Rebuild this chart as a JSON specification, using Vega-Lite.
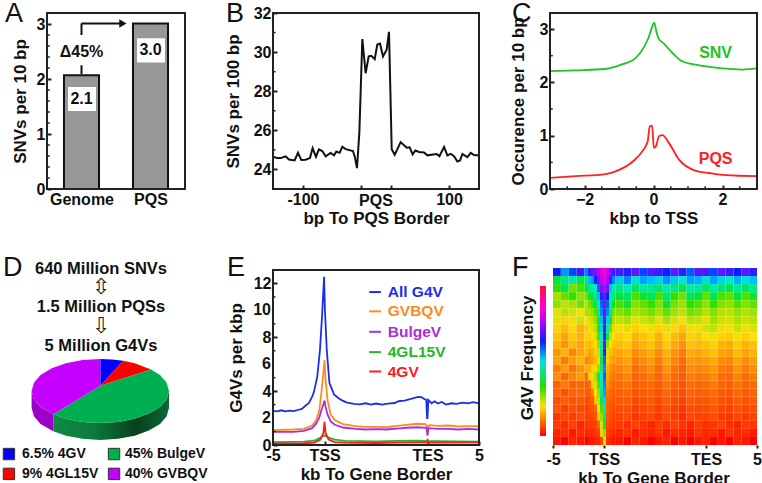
{"$schema":"https://vega.github.io/schema/vega-lite/v6.json","background":"white","padding":{"left":1,"top":0,"right":0,"bottom":0},"bounds":"flush","align":"each","columns":5,"spacing":{"row":81,"column":0},
"config":{"font":"Liberation Sans","view":{"stroke":null},"text":{"font":"Liberation Sans","fontWeight":"bold"},"axis":{"labelFont":"Liberation Sans","titleFont":"Liberation Sans","labelFontWeight":"bold","titleFontWeight":"bold","labelFontSize":16,"titleFontSize":17,"labelColor":"#111","titleColor":"#111","grid":false,"domain":false,"tickColor":"#222","tickWidth":2,"tickSize":-4,"labelAngle":0,"labelFlush":false,"labelOverlap":false},"axisX":{"labelPadding":6,"titlePadding":3},"axisY":{"labelPadding":6,"titlePadding":7}},
"concat":[
{"width":138,"height":176,
"layer":[
{"data":{"values":[{"k":"Genome","x":0.246,"x2":0.754,"y":2.07},{"k":"PQS","x":1.246,"x2":1.754,"y":3.01}]},"mark":{"type":"rect","fill":"#979797","stroke":"#111","strokeWidth":2},"encoding":{"x":{"field":"x","type":"quantitative","scale":{"domain":[0,2],"nice":false},"axis":{"values":[0.5,1.5],"labelExpr":"datum.value==0.5?'Genome':'PQS'","title":null}},"x2":{"field":"x2"},"y":{"field":"y","type":"quantitative","scale":{"domain":[0,3.2],"nice":false},"axis":{"values":[0,1,2,3],"title":"SNVs per 10 bp","format":"d"}},"y2":{"datum":0}}},
{"data":{"values":[{"y":0.2},{"y":0.4},{"y":0.6},{"y":0.8},{"y":1.2},{"y":1.4},{"y":1.6},{"y":1.8},{"y":2.2},{"y":2.4},{"y":2.6},{"y":2.8}]},"mark":{"type":"rule","color":"#222","strokeWidth":1.5},"encoding":{"y":{"field":"y","type":"quantitative"},"x":{"datum":0,"type":"quantitative"},"x2":{"datum":0.04}}},
{"data":{"values":[{"x":0.304,"x2":0.71,"y":1.855,"y2":1.418},{"x":1.304,"x2":1.71,"y":2.74,"y2":2.3}]},"mark":{"type":"rect","fill":"white"},"encoding":{"x":{"field":"x","type":"quantitative"},"x2":{"field":"x2"},"y":{"field":"y","type":"quantitative"},"y2":{"field":"y2"}}},
{"data":{"values":[{"t":"2.1","x":0.5,"y":1.63},{"t":"3.0","x":1.5,"y":2.52},{"t":"Δ45%","x":0.5,"y":2.5}]},"mark":{"type":"text","fontSize":16,"color":"#111"},"encoding":{"x":{"field":"x","type":"quantitative"},"y":{"field":"y","type":"quantitative"},"text":{"field":"t"}}},
{"data":{"values":[{"x":0.5,"x2":0.5,"y":2.09,"y2":2.25},{"x":0.5,"x2":0.5,"y":2.8,"y2":3.01},{"x":0.5,"x2":1.1,"y":3.01,"y2":3.01}]},"mark":{"type":"rule","color":"#111","strokeWidth":2},"encoding":{"x":{"field":"x","type":"quantitative"},"x2":{"field":"x2"},"y":{"field":"y","type":"quantitative"},"y2":{"field":"y2"}}},
{"data":{"values":[{"x":1.1,"y":3.01}]},"mark":{"type":"point","shape":"triangle-right","size":70,"filled":true,"color":"#111","opacity":1},"encoding":{"x":{"field":"x","type":"quantitative"},"y":{"field":"y","type":"quantitative"}}},
{"data":{"values":[{"t":"A"}]},"mark":{"type":"text","align":"left","baseline":"alphabetic","fontSize":27,"fontWeight":"normal","color":"#111","dx":-42,"dy":9},"encoding":{"x":{"datum":0,"type":"quantitative"},"y":{"datum":3.2,"type":"quantitative"},"text":{"field":"t"}}},
{"data":{"values":[{"f":1}]},"mark":{"type":"rect","fillOpacity":0,"stroke":"#222","strokeWidth":2},"encoding":{"x":{"datum":0,"type":"quantitative"},"x2":{"datum":2},"y":{"datum":0,"type":"quantitative"},"y2":{"datum":3.2}}}
]},
{"width":88,"height":20,"data":{"values":[]},"mark":"point"},
{"width":206,"height":176,
"layer":[
{"data":{"values":[{"x":-140.6,"y":24.65},{"x":-135.2,"y":24.58},{"x":-130.6,"y":24.58},{"x":-123.7,"y":24.67},{"x":-119.2,"y":24.51},{"x":-111.4,"y":24.46},{"x":-106.8,"y":24.85},{"x":-102.3,"y":24.48},{"x":-96.3,"y":24.5},{"x":-90.4,"y":24.58},{"x":-86.8,"y":25.09},{"x":-82.2,"y":24.65},{"x":-78.1,"y":25.03},{"x":-73.5,"y":24.94},{"x":-69,"y":24.67},{"x":-62.1,"y":24.84},{"x":-57.5,"y":24.72},{"x":-54.3,"y":24.92},{"x":-49.8,"y":24.85},{"x":-46.1,"y":25.16},{"x":-41.6,"y":25.04},{"x":-31.5,"y":24.94},{"x":-29.2,"y":24.68},{"x":-26,"y":24.07},{"x":-22.8,"y":25.88},{"x":-18.7,"y":30.67},{"x":-14.2,"y":28.92},{"x":-10,"y":29.78},{"x":-6.4,"y":29.81},{"x":-1.8,"y":29.64},{"x":1.8,"y":30.39},{"x":5.5,"y":30.44},{"x":9.6,"y":29.78},{"x":14.6,"y":30.12},{"x":17.8,"y":31.04},{"x":21.5,"y":25.03},{"x":25.6,"y":24.75},{"x":33.8,"y":25.4},{"x":42,"y":25.11},{"x":46.1,"y":25.13},{"x":50.2,"y":24.77},{"x":53.9,"y":24.97},{"x":58.9,"y":24.89},{"x":65.8,"y":24.87},{"x":70.3,"y":24.72},{"x":83.1,"y":24.79},{"x":86.8,"y":24.68},{"x":93.2,"y":25.15},{"x":97.7,"y":24.72},{"x":102.3,"y":24.8},{"x":106.8,"y":24.68},{"x":111.4,"y":24.41},{"x":115,"y":24.46},{"x":118.3,"y":24.79},{"x":125.1,"y":24.63},{"x":129.7,"y":24.85},{"x":134.2,"y":24.74},{"x":139.7,"y":24.72}]},"mark":{"type":"line","color":"#111","strokeWidth":2},"encoding":{"x":{"field":"x","type":"quantitative","scale":{"domain":[-141,141],"nice":false},"axis":{"values":[-100,-20,20,100],"labelExpr":"abs(datum.value)==20?'':datum.value","title":"bp To PQS Border"}},"y":{"field":"y","type":"quantitative","scale":{"domain":[23,32],"nice":false},"axis":{"values":[24,26,28,30,32],"title":"SNVs per 100 bp","titlePadding":11,"labelOverlap":false}}}},
{"data":{"values":[{"y":25},{"y":27},{"y":29},{"y":31}]},"mark":{"type":"rule","color":"#222","strokeWidth":1.5},"encoding":{"y":{"field":"y","type":"quantitative"},"x":{"datum":-141,"type":"quantitative"},"x2":{"datum":-137.5}}},
{"data":{"values":[{"t":"PQS","x":0,"y":23}]},"mark":{"type":"text","fontSize":16,"dy":12,"color":"#111"},"encoding":{"x":{"field":"x","type":"quantitative"},"y":{"field":"y","type":"quantitative"},"text":{"field":"t"}}},
{"data":{"values":[{"t":"B"}]},"mark":{"type":"text","align":"left","baseline":"alphabetic","fontSize":27,"fontWeight":"normal","color":"#111","dx":-47,"dy":9},"encoding":{"x":{"datum":-141,"type":"quantitative"},"y":{"datum":32,"type":"quantitative"},"text":{"field":"t"}}},
{"data":{"values":[{"f":1}]},"mark":{"type":"rect","fillOpacity":0,"stroke":"#222","strokeWidth":2},"encoding":{"x":{"datum":-141,"type":"quantitative"},"x2":{"datum":141},"y":{"datum":23,"type":"quantitative"},"y2":{"datum":32}}}
]},
{"width":71,"height":20,"data":{"values":[]},"mark":"point"},
{"width":207,"height":176,
"layer":[
{"data":{"values":[{"s":"SNV","x":-3,"y":2.21},{"s":"SNV","x":-2.25,"y":2.225},{"s":"SNV","x":-1.39,"y":2.25},{"s":"SNV","x":-0.9,"y":2.34},{"s":"SNV","x":-0.51,"y":2.46},{"s":"SNV","x":-0.27,"y":2.67},{"s":"SNV","x":-0.13,"y":2.86},{"s":"SNV","x":-0.05,"y":3.02},{"s":"SNV","x":0.02,"y":3.12},{"s":"SNV","x":0.07,"y":2.99},{"s":"SNV","x":0.14,"y":2.83},{"s":"SNV","x":0.31,"y":2.72},{"s":"SNV","x":0.55,"y":2.55},{"s":"SNV","x":0.79,"y":2.41},{"s":"SNV","x":1.13,"y":2.34},{"s":"SNV","x":1.52,"y":2.3},{"s":"SNV","x":2,"y":2.26},{"s":"SNV","x":2.58,"y":2.24},{"s":"SNV","x":3,"y":2.26},{"s":"PQS","x":-3,"y":0.21},{"s":"PQS","x":-2.25,"y":0.24},{"s":"PQS","x":-1.39,"y":0.28},{"s":"PQS","x":-1.1,"y":0.33},{"s":"PQS","x":-0.61,"y":0.51},{"s":"PQS","x":-0.32,"y":0.71},{"s":"PQS","x":-0.17,"y":0.89},{"s":"PQS","x":-0.11,"y":1.17},{"s":"PQS","x":-0.04,"y":1.19},{"s":"PQS","x":0.01,"y":0.77},{"s":"PQS","x":0.07,"y":0.8},{"s":"PQS","x":0.16,"y":0.99},{"s":"PQS","x":0.26,"y":1.01},{"s":"PQS","x":0.45,"y":0.86},{"s":"PQS","x":0.74,"y":0.55},{"s":"PQS","x":1.23,"y":0.34},{"s":"PQS","x":1.61,"y":0.3},{"s":"PQS","x":2.1,"y":0.26},{"s":"PQS","x":3,"y":0.24}]},"mark":{"type":"line","strokeWidth":1.8,"interpolate":"monotone"},"encoding":{"x":{"field":"x","type":"quantitative","scale":{"domain":[-3,3],"nice":false},"axis":{"values":[-2,0,2],"format":"d","title":"kbp to TSS"}},"y":{"field":"y","type":"quantitative","scale":{"domain":[0,3.3],"nice":false},"axis":{"values":[0,1,2,3],"format":"d","title":"Occurence per 10 bp","titlePadding":12}},"color":{"field":"s","type":"nominal","scale":{"domain":["SNV","PQS"],"range":["#22c322","#ff2020"]},"legend":null}}},
{"data":{"values":[{"y":0.5},{"y":1.5},{"y":2.5}]},"mark":{"type":"rule","color":"#222","strokeWidth":1.5},"encoding":{"y":{"field":"y","type":"quantitative"},"x":{"datum":-3,"type":"quantitative"},"x2":{"datum":-2.92}}},
{"data":{"values":[{"x":-2.5},{"x":-1.5},{"x":-1},{"x":-0.5},{"x":0.5},{"x":1},{"x":1.5},{"x":2.5}]},"mark":{"type":"rule","color":"#222","strokeWidth":1.5},"encoding":{"x":{"field":"x","type":"quantitative"},"y":{"datum":0,"type":"quantitative"},"y2":{"datum":0.05}}},
{"data":{"values":[{"t":"SNV","x":1.8,"y":2.55,"s":"SNV"},{"t":"PQS","x":1.8,"y":0.56,"s":"PQS"}]},"mark":{"type":"text","fontSize":16},"encoding":{"x":{"field":"x","type":"quantitative"},"y":{"field":"y","type":"quantitative"},"text":{"field":"t"},"color":{"field":"s","type":"nominal","legend":null}}},
{"data":{"values":[{"t":"C"}]},"mark":{"type":"text","align":"left","baseline":"alphabetic","fontSize":27,"fontWeight":"normal","color":"#111","dx":-38,"dy":9},"encoding":{"x":{"datum":-3,"type":"quantitative"},"y":{"datum":3.3,"type":"quantitative"},"text":{"field":"t"}}},
{"data":{"values":[{"f":1}]},"mark":{"type":"rect","fillOpacity":0,"stroke":"#222","strokeWidth":2},"encoding":{"x":{"datum":-3,"type":"quantitative"},"x2":{"datum":3},"y":{"datum":0,"type":"quantitative"},"y2":{"datum":3.3}}}
]},
{"width":138,"height":175,
"layer":[
{"data":{"values":[{"i":0,"x":1,"y":0},{"i":1,"x":0.966,"y":-0.259},{"i":2,"x":0.87,"y":-0.5},{"i":3,"x":0.707,"y":-0.707},{"i":4,"x":0.5,"y":-0.866},{"i":5,"x":0.259,"y":-0.966},{"i":6,"x":0,"y":-1},{"i":7,"x":-0.259,"y":-0.966},{"i":8,"x":-0.5,"y":-0.866},{"i":9,"x":-0.684,"y":-0.729},{"i":10,"x":-0.684,"y":-1.259},{"i":11,"x":-0.5,"y":-1.396},{"i":12,"x":-0.259,"y":-1.496},{"i":13,"x":0,"y":-1.53},{"i":14,"x":0.259,"y":-1.496},{"i":15,"x":0.5,"y":-1.396},{"i":16,"x":0.707,"y":-1.237},{"i":17,"x":0.87,"y":-1.03},{"i":18,"x":0.966,"y":-0.789},{"i":19,"x":1,"y":-0.53}]},"mark":{"type":"line","strokeWidth":0,"fill":{"x1":0,"y1":0,"x2":1,"y2":0,"gradient":"linear","stops":[{"offset":0,"color":"#0f8a45"},{"offset":0.35,"color":"#0c7a3c"},{"offset":0.72,"color":"#07401f"},{"offset":1,"color":"#0d6a34"}]}},"encoding":{"x":{"field":"x","type":"quantitative","scale":{"domain":[-0.776,1.233],"nice":false},"axis":null},"y":{"field":"y","type":"quantitative","scale":{"domain":[-1.6875,3.78],"nice":false},"axis":null},"order":{"field":"i"}}},
{"data":{"values":[{"i":0,"x":-0.684,"y":-0.729},{"i":1,"x":-0.87,"y":-0.5},{"i":2,"x":-0.966,"y":-0.259},{"i":3,"x":-1,"y":0},{"i":4,"x":-1,"y":-0.53},{"i":5,"x":-0.966,"y":-0.789},{"i":6,"x":-0.87,"y":-1.03},{"i":7,"x":-0.684,"y":-1.259}]},"mark":{"type":"line","strokeWidth":0,"fill":"#9a00c8"},"encoding":{"x":{"field":"x","type":"quantitative"},"y":{"field":"y","type":"quantitative"},"order":{"field":"i"}}},
{"data":{"values":[{"s":"b","i":0,"x":0,"y":0.166},{"s":"b","i":1,"x":0,"y":1},{"s":"b","i":2,"x":0.17,"y":0.985},{"s":"b","i":3,"x":0.335,"y":0.942},{"s":"r","i":0,"x":0,"y":0.166},{"s":"r","i":1,"x":0.335,"y":0.942},{"s":"r","i":2,"x":0.5,"y":0.866},{"s":"r","i":3,"x":0.738,"y":0.675},{"s":"g","i":0,"x":0,"y":0.166},{"s":"g","i":1,"x":0.738,"y":0.675},{"s":"g","i":2,"x":0.87,"y":0.5},{"s":"g","i":3,"x":0.966,"y":0.259},{"s":"g","i":4,"x":1,"y":0},{"s":"g","i":5,"x":0.966,"y":-0.259},{"s":"g","i":6,"x":0.87,"y":-0.5},{"s":"g","i":7,"x":0.707,"y":-0.707},{"s":"g","i":8,"x":0.5,"y":-0.866},{"s":"g","i":9,"x":0.259,"y":-0.966},{"s":"g","i":10,"x":0,"y":-1},{"s":"g","i":11,"x":-0.259,"y":-0.966},{"s":"g","i":12,"x":-0.5,"y":-0.866},{"s":"g","i":13,"x":-0.684,"y":-0.729},{"s":"p","i":0,"x":0,"y":0.166},{"s":"p","i":1,"x":-0.684,"y":-0.729},{"s":"p","i":2,"x":-0.87,"y":-0.5},{"s":"p","i":3,"x":-0.966,"y":-0.259},{"s":"p","i":4,"x":-1,"y":0},{"s":"p","i":5,"x":-0.966,"y":0.259},{"s":"p","i":6,"x":-0.87,"y":0.5},{"s":"p","i":7,"x":-0.707,"y":0.707},{"s":"p","i":8,"x":-0.5,"y":0.866},{"s":"p","i":9,"x":-0.259,"y":0.966},{"s":"p","i":10,"x":0,"y":1}]},"mark":{"type":"line","strokeWidth":0},"encoding":{"x":{"field":"x","type":"quantitative"},"y":{"field":"y","type":"quantitative"},"order":{"field":"i"},"fill":{"field":"s","type":"nominal","scale":{"domain":["b","r","g","p"],"range":["#0000ff","#ff0000","#00b050","#c400ff"]},"legend":null}}},
{"data":{"values":[{"s":"b","x":-1.33,"y":-1.97},{"s":"r","x":-1.33,"y":-2.59},{"s":"g","x":0.2,"y":-1.97},{"s":"p","x":0.2,"y":-2.59}]},"mark":{"type":"square","size":130,"stroke":"#333","strokeWidth":1,"opacity":1},"encoding":{"x":{"field":"x","type":"quantitative"},"y":{"field":"y","type":"quantitative"},"fill":{"field":"s","type":"nominal","legend":null}}},
{"data":{"values":[{"t":"6.5%  4GV","x":-1.14,"y":-1.97},{"t":"9%  4GL15V","x":-1.14,"y":-2.59},{"t":"45%  BulgeV","x":0.36,"y":-1.97},{"t":"40%  GVBQV","x":0.36,"y":-2.59}]},"mark":{"type":"text","fontSize":14,"align":"left","color":"#111"},"encoding":{"x":{"field":"x","type":"quantitative"},"y":{"field":"y","type":"quantitative"},"text":{"field":"t"}}},
{"data":{"values":[{"t":"640 Million SNVs","x":0.01,"y":3.81},{"t":"1.5 Million PQSs","x":0.01,"y":2.62},{"t":"5 Million G4Vs","x":0.01,"y":1.41}]},"mark":{"type":"text","fontSize":16.5,"color":"#111"},"encoding":{"x":{"field":"x","type":"quantitative"},"y":{"field":"y","type":"quantitative"},"text":{"field":"t"}}},
{"data":{"values":[{"t":"⇳","x":0.01,"y":3.25},{"t":"⇩","x":0.01,"y":2.03}]},"mark":{"type":"text","fontSize":22,"font":"DejaVu Sans","fontWeight":"normal","color":"#222"},"encoding":{"x":{"field":"x","type":"quantitative"},"y":{"field":"y","type":"quantitative"},"text":{"field":"t"}}},
{"data":{"values":[{"t":"D"}]},"mark":{"type":"text","align":"left","baseline":"alphabetic","fontSize":27,"fontWeight":"normal","color":"#111","dx":-44,"dy":6},"encoding":{"x":{"datum":-0.776,"type":"quantitative"},"y":{"datum":3.78,"type":"quantitative"},"text":{"field":"t"}}}
]},
{"width":88,"height":20,"data":{"values":[]},"mark":"point"},
{"width":206,"height":175,
"layer":[
{"data":{"values":[{"s":"All G4V","x":-5,"y":2.53},{"s":"All G4V","x":-4.8,"y":2.5},{"s":"All G4V","x":-4.6,"y":2.58},{"s":"All G4V","x":-4.4,"y":2.5},{"s":"All G4V","x":-4.2,"y":2.56},{"s":"All G4V","x":-4,"y":2.52},{"s":"All G4V","x":-3.8,"y":2.6},{"s":"All G4V","x":-3.6,"y":2.68},{"s":"All G4V","x":-3.4,"y":2.95},{"s":"All G4V","x":-3.26,"y":3.1},{"s":"All G4V","x":-3.1,"y":3.6},{"s":"All G4V","x":-3.01,"y":3.95},{"s":"All G4V","x":-2.85,"y":5.09},{"s":"All G4V","x":-2.72,"y":7.07},{"s":"All G4V","x":-2.62,"y":9.55},{"s":"All G4V","x":-2.52,"y":12.5},{"s":"All G4V","x":-2.48,"y":10.05},{"s":"All G4V","x":-2.39,"y":7.07},{"s":"All G4V","x":-2.26,"y":4.6},{"s":"All G4V","x":-2.1,"y":4},{"s":"All G4V","x":-2.04,"y":3.75},{"s":"All G4V","x":-1.8,"y":3.45},{"s":"All G4V","x":-1.63,"y":3.3},{"s":"All G4V","x":-1.4,"y":3.15},{"s":"All G4V","x":-1.06,"y":3.05},{"s":"All G4V","x":-0.8,"y":3.02},{"s":"All G4V","x":-0.5,"y":3.1},{"s":"All G4V","x":-0.24,"y":3},{"s":"All G4V","x":0,"y":3.08},{"s":"All G4V","x":0.3,"y":3},{"s":"All G4V","x":0.57,"y":3.08},{"s":"All G4V","x":0.9,"y":3.12},{"s":"All G4V","x":1.1,"y":3.25},{"s":"All G4V","x":1.38,"y":3.3},{"s":"All G4V","x":1.7,"y":3.42},{"s":"All G4V","x":2.04,"y":3.58},{"s":"All G4V","x":2.2,"y":3.55},{"s":"All G4V","x":2.35,"y":3.42},{"s":"All G4V","x":2.44,"y":3.35},{"s":"All G4V","x":2.48,"y":2},{"s":"All G4V","x":2.5,"y":2},{"s":"All G4V","x":2.54,"y":3.35},{"s":"All G4V","x":2.7,"y":3.1},{"s":"All G4V","x":2.85,"y":3.25},{"s":"All G4V","x":3,"y":3.08},{"s":"All G4V","x":3.18,"y":3.2},{"s":"All G4V","x":3.4,"y":3},{"s":"All G4V","x":3.66,"y":3.1},{"s":"All G4V","x":3.9,"y":3.05},{"s":"All G4V","x":4.2,"y":3.15},{"s":"All G4V","x":4.48,"y":3.1},{"s":"All G4V","x":4.7,"y":3.18},{"s":"All G4V","x":5,"y":3.1},
{"s":"GVBQV","x":-5,"y":1.1},{"s":"GVBQV","x":-4,"y":1.15},{"s":"GVBQV","x":-3.5,"y":1.2},{"s":"GVBQV","x":-3.1,"y":1.45},{"s":"GVBQV","x":-2.9,"y":1.85},{"s":"GVBQV","x":-2.75,"y":2.6},{"s":"GVBQV","x":-2.65,"y":3.9},{"s":"GVBQV","x":-2.55,"y":5.4},{"s":"GVBQV","x":-2.5,"y":6.3},{"s":"GVBQV","x":-2.45,"y":4.9},{"s":"GVBQV","x":-2.35,"y":3.3},{"s":"GVBQV","x":-2.2,"y":2.25},{"s":"GVBQV","x":-2,"y":1.85},{"s":"GVBQV","x":-1.6,"y":1.55},{"s":"GVBQV","x":-1,"y":1.4},{"s":"GVBQV","x":-0.5,"y":1.35},{"s":"GVBQV","x":0,"y":1.35},{"s":"GVBQV","x":0.5,"y":1.32},{"s":"GVBQV","x":1,"y":1.42},{"s":"GVBQV","x":1.5,"y":1.5},{"s":"GVBQV","x":2,"y":1.58},{"s":"GVBQV","x":2.4,"y":1.55},{"s":"GVBQV","x":2.5,"y":1.35},{"s":"GVBQV","x":2.6,"y":1.48},{"s":"GVBQV","x":3,"y":1.42},{"s":"GVBQV","x":3.5,"y":1.45},{"s":"GVBQV","x":4,"y":1.38},{"s":"GVBQV","x":4.5,"y":1.4},{"s":"GVBQV","x":5,"y":1.4},
{"s":"BulgeV","x":-5,"y":0.98},{"s":"BulgeV","x":-4,"y":0.98},{"s":"BulgeV","x":-3.5,"y":1.05},{"s":"BulgeV","x":-3.1,"y":1.25},{"s":"BulgeV","x":-2.9,"y":1.6},{"s":"BulgeV","x":-2.75,"y":2.05},{"s":"BulgeV","x":-2.65,"y":2.6},{"s":"BulgeV","x":-2.55,"y":3.05},{"s":"BulgeV","x":-2.5,"y":3.3},{"s":"BulgeV","x":-2.45,"y":2.85},{"s":"BulgeV","x":-2.35,"y":2.25},{"s":"BulgeV","x":-2.2,"y":1.75},{"s":"BulgeV","x":-2,"y":1.5},{"s":"BulgeV","x":-1.6,"y":1.3},{"s":"BulgeV","x":-1,"y":1.2},{"s":"BulgeV","x":-0.5,"y":1.15},{"s":"BulgeV","x":0,"y":1.18},{"s":"BulgeV","x":0.5,"y":1.15},{"s":"BulgeV","x":1,"y":1.22},{"s":"BulgeV","x":1.5,"y":1.28},{"s":"BulgeV","x":2,"y":1.32},{"s":"BulgeV","x":2.45,"y":1.28},{"s":"BulgeV","x":2.5,"y":0.7},{"s":"BulgeV","x":2.55,"y":1.25},{"s":"BulgeV","x":3,"y":1.2},{"s":"BulgeV","x":3.5,"y":1.2},{"s":"BulgeV","x":4,"y":1.15},{"s":"BulgeV","x":4.5,"y":1.2},{"s":"BulgeV","x":5,"y":1.15},
{"s":"4GL15V","x":-5,"y":0.22},{"s":"4GL15V","x":-3.5,"y":0.25},{"s":"4GL15V","x":-3,"y":0.32},{"s":"4GL15V","x":-2.7,"y":0.55},{"s":"4GL15V","x":-2.5,"y":0.72},{"s":"4GL15V","x":-2.3,"y":0.55},{"s":"4GL15V","x":-2,"y":0.4},{"s":"4GL15V","x":-1.5,"y":0.3},{"s":"4GL15V","x":0,"y":0.27},{"s":"4GL15V","x":1,"y":0.3},{"s":"4GL15V","x":2,"y":0.33},{"s":"4GL15V","x":2.5,"y":0.28},{"s":"4GL15V","x":3,"y":0.28},{"s":"4GL15V","x":5,"y":0.25},
{"s":"4GV","x":-5,"y":0.12},{"s":"4GV","x":-3.5,"y":0.13},{"s":"4GV","x":-3,"y":0.18},{"s":"4GV","x":-2.7,"y":0.4},{"s":"4GV","x":-2.55,"y":0.9},{"s":"4GV","x":-2.5,"y":1.72},{"s":"4GV","x":-2.45,"y":0.9},{"s":"4GV","x":-2.3,"y":0.4},{"s":"4GV","x":-2,"y":0.22},{"s":"4GV","x":-1.5,"y":0.17},{"s":"4GV","x":0,"y":0.15},{"s":"4GV","x":1,"y":0.17},{"s":"4GV","x":2,"y":0.2},{"s":"4GV","x":2.48,"y":0.2},{"s":"4GV","x":2.5,"y":0.45},{"s":"4GV","x":2.52,"y":0.2},{"s":"4GV","x":3,"y":0.17},{"s":"4GV","x":5,"y":0.2}]},"mark":{"type":"line","strokeWidth":1.8},"encoding":{"x":{"field":"x","type":"quantitative","scale":{"domain":[-5,5],"nice":false},"axis":{"values":[-5,-2.5,2.5,5],"labelExpr":"datum.value==-5?'-5':datum.value==5?'5':datum.value<0?'TSS':'TES'","title":"kb To Gene Border"}},"y":{"field":"y","type":"quantitative","scale":{"domain":[0,13],"nice":false},"axis":{"values":[0,2,4,6,8,10,12],"title":"G4Vs per kbp","titlePadding":8,"labelOverlap":false,"labelBound":false,"labelSeparation":0}},"color":{"field":"s","type":"nominal","scale":{"domain":["All G4V","GVBQV","BulgeV","4GL15V","4GV"],"range":["#1a2fe8","#ff8a1e","#a82fe0","#22b822","#ff1a1a"]},"legend":null}}},
{"data":{"values":[{"y":1},{"y":3},{"y":5},{"y":7},{"y":9},{"y":11}]},"mark":{"type":"rule","color":"#222","strokeWidth":1.5},"encoding":{"y":{"field":"y","type":"quantitative"},"x":{"datum":-5,"type":"quantitative"},"x2":{"datum":-4.88}}},
{"data":{"values":[{"y":2},{"y":6},{"y":10}]},"mark":{"type":"text","fontSize":16,"align":"right","baseline":"middle","dx":-2,"color":"#111"},"encoding":{"y":{"field":"y","type":"quantitative"},"x":{"datum":-5,"type":"quantitative"},"text":{"field":"y","type":"quantitative"}}},
{"data":{"values":[{"s":"All G4V","x":-0.33,"x2":0.24,"y":11.36},{"s":"GVBQV","x":-0.33,"x2":0.24,"y":9.93},{"s":"BulgeV","x":-0.33,"x2":0.24,"y":8.41},{"s":"4GL15V","x":-0.33,"x2":0.24,"y":6.9},{"s":"4GV","x":-0.33,"x2":0.24,"y":5.46}]},"mark":{"type":"rule","strokeWidth":2},"encoding":{"x":{"field":"x","type":"quantitative"},"x2":{"field":"x2"},"y":{"field":"y","type":"quantitative"},"color":{"field":"s","type":"nominal","legend":null}}},
{"data":{"values":[{"s":"All G4V","x":0.57,"y":11.36},{"s":"GVBQV","x":0.57,"y":9.93},{"s":"BulgeV","x":0.57,"y":8.41},{"s":"4GL15V","x":0.57,"y":6.9},{"s":"4GV","x":0.57,"y":5.46}]},"mark":{"type":"text","fontSize":15.5,"align":"left"},"encoding":{"x":{"field":"x","type":"quantitative"},"y":{"field":"y","type":"quantitative"},"text":{"field":"s"},"color":{"field":"s","type":"nominal","legend":null}}},
{"data":{"values":[{"t":"E"}]},"mark":{"type":"text","align":"left","baseline":"alphabetic","fontSize":27,"fontWeight":"normal","color":"#111","dx":-46,"dy":6},"encoding":{"x":{"datum":-5,"type":"quantitative"},"y":{"datum":13,"type":"quantitative"},"text":{"field":"t"}}},
{"data":{"values":[{"f":1}]},"mark":{"type":"rect","fillOpacity":0,"stroke":"#222","strokeWidth":2},"encoding":{"x":{"datum":-5,"type":"quantitative"},"x2":{"datum":5},"y":{"datum":0,"type":"quantitative"},"y2":{"datum":13}}}
]},
{"width":71,"height":20,"data":{"values":[]},"mark":"point"},
{"width":207,"height":175,
"layer":[
{"data":{"values":[{"c":0,"r":0,"v":70},{"c":1,"r":0,"v":65},{"c":2,"r":0,"v":69},{"c":3,"r":0,"v":72},{"c":4,"r":0,"v":66},{"c":5,"r":0,"v":68},{"c":6,"r":0,"v":75},{"c":7,"r":0,"v":68},{"c":8,"r":0,"v":73},{"c":9,"r":0,"v":71},{"c":10,"r":0,"v":76},{"c":11,"r":0,"v":69},{"c":12,"r":0,"v":74},{"c":13,"r":0,"v":72},{"c":14,"r":0,"v":70},{"c":15,"r":0,"v":75},{"c":16,"r":0,"v":71},{"c":17,"r":0,"v":68},{"c":18,"r":0,"v":74},{"c":19,"r":0,"v":73},{"c":20,"r":0,"v":69},{"c":21,"r":0,"v":76},{"c":22,"r":0,"v":72},{"c":23,"r":0,"v":70},{"c":24,"r":0,"v":75},{"c":25,"r":0,"v":71},
{"c":0,"r":1,"v":47},{"c":1,"r":1,"v":51},{"c":2,"r":1,"v":54},{"c":3,"r":1,"v":48},{"c":4,"r":1,"v":50},{"c":5,"r":1,"v":53},{"c":6,"r":1,"v":60},{"c":7,"r":1,"v":63},{"c":8,"r":1,"v":61},{"c":9,"r":1,"v":66},{"c":10,"r":1,"v":59},{"c":11,"r":1,"v":64},{"c":12,"r":1,"v":62},{"c":13,"r":1,"v":60},{"c":14,"r":1,"v":65},{"c":15,"r":1,"v":61},{"c":16,"r":1,"v":58},{"c":17,"r":1,"v":64},{"c":18,"r":1,"v":63},{"c":19,"r":1,"v":59},{"c":20,"r":1,"v":64},{"c":21,"r":1,"v":60},{"c":22,"r":1,"v":58},{"c":23,"r":1,"v":63},{"c":24,"r":1,"v":59},{"c":25,"r":1,"v":62},
{"c":0,"r":2,"v":45},{"c":1,"r":2,"v":48},{"c":2,"r":2,"v":42},{"c":3,"r":2,"v":44},{"c":4,"r":2,"v":47},{"c":5,"r":2,"v":40},{"c":6,"r":2,"v":52},{"c":7,"r":2,"v":53},{"c":8,"r":2,"v":51},{"c":9,"r":2,"v":56},{"c":10,"r":2,"v":49},{"c":11,"r":2,"v":54},{"c":12,"r":2,"v":52},{"c":13,"r":2,"v":50},{"c":14,"r":2,"v":55},{"c":15,"r":2,"v":51},{"c":16,"r":2,"v":48},{"c":17,"r":2,"v":54},{"c":18,"r":2,"v":53},{"c":19,"r":2,"v":49},{"c":20,"r":2,"v":54},{"c":21,"r":2,"v":50},{"c":22,"r":2,"v":48},{"c":23,"r":2,"v":53},{"c":24,"r":2,"v":49},{"c":25,"r":2,"v":52},
{"c":0,"r":3,"v":38},{"c":1,"r":3,"v":43},{"c":2,"r":3,"v":45},{"c":3,"r":3,"v":40},{"c":4,"r":3,"v":42},{"c":5,"r":3,"v":44},{"c":6,"r":3,"v":46},{"c":7,"r":3,"v":43},{"c":8,"r":3,"v":47},{"c":9,"r":3,"v":49},{"c":10,"r":3,"v":44},{"c":11,"r":3,"v":46},{"c":12,"r":3,"v":48},{"c":13,"r":3,"v":44},{"c":14,"r":3,"v":49},{"c":15,"r":3,"v":45},{"c":16,"r":3,"v":42},{"c":17,"r":3,"v":48},{"c":18,"r":3,"v":47},{"c":19,"r":3,"v":43},{"c":20,"r":3,"v":48},{"c":21,"r":3,"v":44},{"c":22,"r":3,"v":43},{"c":23,"r":3,"v":47},{"c":24,"r":3,"v":44},{"c":25,"r":3,"v":46},
{"c":0,"r":4,"v":40},{"c":1,"r":4,"v":36},{"c":2,"r":4,"v":38},{"c":3,"r":4,"v":42},{"c":4,"r":4,"v":37},{"c":5,"r":4,"v":38},{"c":6,"r":4,"v":44},{"c":7,"r":4,"v":40},{"c":8,"r":4,"v":44},{"c":9,"r":4,"v":46},{"c":10,"r":4,"v":41},{"c":11,"r":4,"v":43},{"c":12,"r":4,"v":45},{"c":13,"r":4,"v":41},{"c":14,"r":4,"v":46},{"c":15,"r":4,"v":42},{"c":16,"r":4,"v":39},{"c":17,"r":4,"v":45},{"c":18,"r":4,"v":44},{"c":19,"r":4,"v":40},{"c":20,"r":4,"v":45},{"c":21,"r":4,"v":41},{"c":22,"r":4,"v":40},{"c":23,"r":4,"v":44},{"c":24,"r":4,"v":41},{"c":25,"r":4,"v":43},
{"c":0,"r":5,"v":33},{"c":1,"r":5,"v":37},{"c":2,"r":5,"v":35},{"c":3,"r":5,"v":31},{"c":4,"r":5,"v":38},{"c":5,"r":5,"v":35},{"c":6,"r":5,"v":41},{"c":7,"r":5,"v":37},{"c":8,"r":5,"v":41},{"c":9,"r":5,"v":43},{"c":10,"r":5,"v":38},{"c":11,"r":5,"v":40},{"c":12,"r":5,"v":42},{"c":13,"r":5,"v":38},{"c":14,"r":5,"v":43},{"c":15,"r":5,"v":39},{"c":16,"r":5,"v":36},{"c":17,"r":5,"v":42},{"c":18,"r":5,"v":41},{"c":19,"r":5,"v":37},{"c":20,"r":5,"v":41},{"c":21,"r":5,"v":37},{"c":22,"r":5,"v":36},{"c":23,"r":5,"v":40},{"c":24,"r":5,"v":37},{"c":25,"r":5,"v":39},
{"c":0,"r":6,"v":33},{"c":1,"r":6,"v":28},{"c":2,"r":6,"v":32},{"c":3,"r":6,"v":35},{"c":4,"r":6,"v":30},{"c":5,"r":6,"v":31},{"c":6,"r":6,"v":36},{"c":7,"r":6,"v":32},{"c":8,"r":6,"v":36},{"c":9,"r":6,"v":38},{"c":10,"r":6,"v":33},{"c":11,"r":6,"v":35},{"c":12,"r":6,"v":37},{"c":13,"r":6,"v":33},{"c":14,"r":6,"v":38},{"c":15,"r":6,"v":34},{"c":16,"r":6,"v":31},{"c":17,"r":6,"v":37},{"c":18,"r":6,"v":36},{"c":19,"r":6,"v":33},{"c":20,"r":6,"v":39},{"c":21,"r":6,"v":35},{"c":22,"r":6,"v":34},{"c":23,"r":6,"v":38},{"c":24,"r":6,"v":35},{"c":25,"r":6,"v":37},
{"c":0,"r":7,"v":28},{"c":1,"r":7,"v":25},{"c":2,"r":7,"v":29},{"c":3,"r":7,"v":24},{"c":4,"r":7,"v":27},{"c":5,"r":7,"v":30},{"c":6,"r":7,"v":31},{"c":7,"r":7,"v":27},{"c":8,"r":7,"v":31},{"c":9,"r":7,"v":33},{"c":10,"r":7,"v":28},{"c":11,"r":7,"v":30},{"c":12,"r":7,"v":32},{"c":13,"r":7,"v":28},{"c":14,"r":7,"v":33},{"c":15,"r":7,"v":29},{"c":16,"r":7,"v":26},{"c":17,"r":7,"v":32},{"c":18,"r":7,"v":31},{"c":19,"r":7,"v":34},{"c":20,"r":7,"v":36},{"c":21,"r":7,"v":32},{"c":22,"r":7,"v":31},{"c":23,"r":7,"v":35},{"c":24,"r":7,"v":32},{"c":25,"r":7,"v":34},
{"c":0,"r":8,"v":26},{"c":1,"r":8,"v":22},{"c":2,"r":8,"v":27},{"c":3,"r":8,"v":24},{"c":4,"r":8,"v":28},{"c":5,"r":8,"v":23},{"c":6,"r":8,"v":27},{"c":7,"r":8,"v":24},{"c":8,"r":8,"v":27},{"c":9,"r":8,"v":29},{"c":10,"r":8,"v":24},{"c":11,"r":8,"v":26},{"c":12,"r":8,"v":28},{"c":13,"r":8,"v":24},{"c":14,"r":8,"v":29},{"c":15,"r":8,"v":25},{"c":16,"r":8,"v":22},{"c":17,"r":8,"v":28},{"c":18,"r":8,"v":27},{"c":19,"r":8,"v":30},{"c":20,"r":8,"v":32},{"c":21,"r":8,"v":28},{"c":22,"r":8,"v":27},{"c":23,"r":8,"v":31},{"c":24,"r":8,"v":28},{"c":25,"r":8,"v":30},
{"c":0,"r":9,"v":24},{"c":1,"r":9,"v":20},{"c":2,"r":9,"v":25},{"c":3,"r":9,"v":22},{"c":4,"r":9,"v":26},{"c":5,"r":9,"v":21},{"c":6,"r":9,"v":25},{"c":7,"r":9,"v":22},{"c":8,"r":9,"v":25},{"c":9,"r":9,"v":27},{"c":10,"r":9,"v":22},{"c":11,"r":9,"v":24},{"c":12,"r":9,"v":26},{"c":13,"r":9,"v":22},{"c":14,"r":9,"v":27},{"c":15,"r":9,"v":23},{"c":16,"r":9,"v":20},{"c":17,"r":9,"v":26},{"c":18,"r":9,"v":25},{"c":19,"r":9,"v":26},{"c":20,"r":9,"v":28},{"c":21,"r":9,"v":24},{"c":22,"r":9,"v":23},{"c":23,"r":9,"v":27},{"c":24,"r":9,"v":24},{"c":25,"r":9,"v":26},
{"c":0,"r":10,"v":20},{"c":1,"r":10,"v":24},{"c":2,"r":10,"v":18},{"c":3,"r":10,"v":22},{"c":4,"r":10,"v":25},{"c":5,"r":10,"v":19},{"c":6,"r":10,"v":22},{"c":7,"r":10,"v":19},{"c":8,"r":10,"v":22},{"c":9,"r":10,"v":24},{"c":10,"r":10,"v":19},{"c":11,"r":10,"v":21},{"c":12,"r":10,"v":23},{"c":13,"r":10,"v":19},{"c":14,"r":10,"v":24},{"c":15,"r":10,"v":20},{"c":16,"r":10,"v":17},{"c":17,"r":10,"v":23},{"c":18,"r":10,"v":22},{"c":19,"r":10,"v":24},{"c":20,"r":10,"v":26},{"c":21,"r":10,"v":22},{"c":22,"r":10,"v":21},{"c":23,"r":10,"v":25},{"c":24,"r":10,"v":22},{"c":25,"r":10,"v":24},
{"c":0,"r":11,"v":22},{"c":1,"r":11,"v":17},{"c":2,"r":11,"v":21},{"c":3,"r":11,"v":24},{"c":4,"r":11,"v":18},{"c":5,"r":11,"v":20},{"c":6,"r":11,"v":20},{"c":7,"r":11,"v":17},{"c":8,"r":11,"v":20},{"c":9,"r":11,"v":22},{"c":10,"r":11,"v":17},{"c":11,"r":11,"v":19},{"c":12,"r":11,"v":21},{"c":13,"r":11,"v":17},{"c":14,"r":11,"v":22},{"c":15,"r":11,"v":18},{"c":16,"r":11,"v":15},{"c":17,"r":11,"v":21},{"c":18,"r":11,"v":20},{"c":19,"r":11,"v":21},{"c":20,"r":11,"v":23},{"c":21,"r":11,"v":19},{"c":22,"r":11,"v":18},{"c":23,"r":11,"v":22},{"c":24,"r":11,"v":19},{"c":25,"r":11,"v":21},
{"c":0,"r":12,"v":17},{"c":1,"r":12,"v":21},{"c":2,"r":12,"v":16},{"c":3,"r":12,"v":20},{"c":4,"r":12,"v":23},{"c":5,"r":12,"v":18},{"c":6,"r":12,"v":18},{"c":7,"r":12,"v":15},{"c":8,"r":12,"v":18},{"c":9,"r":12,"v":20},{"c":10,"r":12,"v":15},{"c":11,"r":12,"v":17},{"c":12,"r":12,"v":19},{"c":13,"r":12,"v":15},{"c":14,"r":12,"v":20},{"c":15,"r":12,"v":16},{"c":16,"r":12,"v":13},{"c":17,"r":12,"v":19},{"c":18,"r":12,"v":18},{"c":19,"r":12,"v":19},{"c":20,"r":12,"v":21},{"c":21,"r":12,"v":17},{"c":22,"r":12,"v":16},{"c":23,"r":12,"v":20},{"c":24,"r":12,"v":17},{"c":25,"r":12,"v":19},
{"c":0,"r":13,"v":19},{"c":1,"r":13,"v":14},{"c":2,"r":13,"v":18},{"c":3,"r":13,"v":21},{"c":4,"r":13,"v":15},{"c":5,"r":13,"v":17},{"c":6,"r":13,"v":16},{"c":7,"r":13,"v":13},{"c":8,"r":13,"v":16},{"c":9,"r":13,"v":18},{"c":10,"r":13,"v":13},{"c":11,"r":13,"v":15},{"c":12,"r":13,"v":17},{"c":13,"r":13,"v":13},{"c":14,"r":13,"v":18},{"c":15,"r":13,"v":14},{"c":16,"r":13,"v":11},{"c":17,"r":13,"v":17},{"c":18,"r":13,"v":16},{"c":19,"r":13,"v":17},{"c":20,"r":13,"v":19},{"c":21,"r":13,"v":15},{"c":22,"r":13,"v":14},{"c":23,"r":13,"v":18},{"c":24,"r":13,"v":15},{"c":25,"r":13,"v":17},
{"c":0,"r":14,"v":12},{"c":1,"r":14,"v":17},{"c":2,"r":14,"v":13},{"c":3,"r":14,"v":15},{"c":4,"r":14,"v":11},{"c":5,"r":14,"v":14},{"c":6,"r":14,"v":14},{"c":7,"r":14,"v":11},{"c":8,"r":14,"v":14},{"c":9,"r":14,"v":16},{"c":10,"r":14,"v":11},{"c":11,"r":14,"v":13},{"c":12,"r":14,"v":15},{"c":13,"r":14,"v":11},{"c":14,"r":14,"v":16},{"c":15,"r":14,"v":12},{"c":16,"r":14,"v":9},{"c":17,"r":14,"v":15},{"c":18,"r":14,"v":14},{"c":19,"r":14,"v":15},{"c":20,"r":14,"v":17},{"c":21,"r":14,"v":13},{"c":22,"r":14,"v":12},{"c":23,"r":14,"v":16},{"c":24,"r":14,"v":13},{"c":25,"r":14,"v":15},
{"c":0,"r":15,"v":14},{"c":1,"r":15,"v":9},{"c":2,"r":15,"v":13},{"c":3,"r":15,"v":15},{"c":4,"r":15,"v":10},{"c":5,"r":15,"v":12},{"c":6,"r":15,"v":12},{"c":7,"r":15,"v":9},{"c":8,"r":15,"v":12},{"c":9,"r":15,"v":14},{"c":10,"r":15,"v":9},{"c":11,"r":15,"v":11},{"c":12,"r":15,"v":13},{"c":13,"r":15,"v":9},{"c":14,"r":15,"v":14},{"c":15,"r":15,"v":10},{"c":16,"r":15,"v":8},{"c":17,"r":15,"v":13},{"c":18,"r":15,"v":12},{"c":19,"r":15,"v":12},{"c":20,"r":15,"v":15},{"c":21,"r":15,"v":11},{"c":22,"r":15,"v":10},{"c":23,"r":15,"v":14},{"c":24,"r":15,"v":11},{"c":25,"r":15,"v":13},
{"c":0,"r":16,"v":8},{"c":1,"r":16,"v":12},{"c":2,"r":16,"v":9},{"c":3,"r":16,"v":11},{"c":4,"r":16,"v":7},{"c":5,"r":16,"v":10},{"c":6,"r":16,"v":10},{"c":7,"r":16,"v":7},{"c":8,"r":16,"v":10},{"c":9,"r":16,"v":12},{"c":10,"r":16,"v":7},{"c":11,"r":16,"v":9},{"c":12,"r":16,"v":11},{"c":13,"r":16,"v":7},{"c":14,"r":16,"v":12},{"c":15,"r":16,"v":8},{"c":16,"r":16,"v":6},{"c":17,"r":16,"v":11},{"c":18,"r":16,"v":10},{"c":19,"r":16,"v":10},{"c":20,"r":16,"v":13},{"c":21,"r":16,"v":9},{"c":22,"r":16,"v":8},{"c":23,"r":16,"v":12},{"c":24,"r":16,"v":9},{"c":25,"r":16,"v":11},
{"c":0,"r":17,"v":10},{"c":1,"r":17,"v":6},{"c":2,"r":17,"v":9},{"c":3,"r":17,"v":7},{"c":4,"r":17,"v":5},{"c":5,"r":17,"v":8},{"c":6,"r":17,"v":8},{"c":7,"r":17,"v":5},{"c":8,"r":17,"v":8},{"c":9,"r":17,"v":9},{"c":10,"r":17,"v":5},{"c":11,"r":17,"v":7},{"c":12,"r":17,"v":9},{"c":13,"r":17,"v":5},{"c":14,"r":17,"v":9},{"c":15,"r":17,"v":6},{"c":16,"r":17,"v":4},{"c":17,"r":17,"v":8},{"c":18,"r":17,"v":7},{"c":19,"r":17,"v":8},{"c":20,"r":17,"v":10},{"c":21,"r":17,"v":7},{"c":22,"r":17,"v":6},{"c":23,"r":17,"v":9},{"c":24,"r":17,"v":7},{"c":25,"r":17,"v":8},
{"c":0,"r":18,"v":4},{"c":1,"r":18,"v":7},{"c":2,"r":18,"v":5},{"c":3,"r":18,"v":8},{"c":4,"r":18,"v":6},{"c":5,"r":18,"v":4},{"c":6,"r":18,"v":7},{"c":7,"r":18,"v":4},{"c":8,"r":18,"v":6},{"c":9,"r":18,"v":8},{"c":10,"r":18,"v":4},{"c":11,"r":18,"v":6},{"c":12,"r":18,"v":7},{"c":13,"r":18,"v":4},{"c":14,"r":18,"v":8},{"c":15,"r":18,"v":5},{"c":16,"r":18,"v":3},{"c":17,"r":18,"v":7},{"c":18,"r":18,"v":6},{"c":19,"r":18,"v":6},{"c":20,"r":18,"v":8},{"c":21,"r":18,"v":5},{"c":22,"r":18,"v":4},{"c":23,"r":18,"v":7},{"c":24,"r":18,"v":5},{"c":25,"r":18,"v":6},
{"c":0,"r":19,"v":5},{"c":1,"r":19,"v":3},{"c":2,"r":19,"v":6},{"c":3,"r":19,"v":2},{"c":4,"r":19,"v":4},{"c":5,"r":19,"v":5},{"c":6,"r":19,"v":4},{"c":7,"r":19,"v":2},{"c":8,"r":19,"v":5},{"c":9,"r":19,"v":3},{"c":10,"r":19,"v":6},{"c":11,"r":19,"v":4},{"c":12,"r":19,"v":2},{"c":13,"r":19,"v":5},{"c":14,"r":19,"v":3},{"c":15,"r":19,"v":6},{"c":16,"r":19,"v":4},{"c":17,"r":19,"v":2},{"c":18,"r":19,"v":5},{"c":19,"r":19,"v":3},{"c":20,"r":19,"v":4},{"c":21,"r":19,"v":6},{"c":22,"r":19,"v":3},{"c":23,"r":19,"v":2},{"c":24,"r":19,"v":5},{"c":25,"r":19,"v":4},
{"c":0,"r":20,"v":2},{"c":1,"r":20,"v":4},{"c":2,"r":20,"v":1},{"c":3,"r":20,"v":3},{"c":4,"r":20,"v":2},{"c":5,"r":20,"v":4},{"c":6,"r":20,"v":3},{"c":7,"r":20,"v":1},{"c":8,"r":20,"v":2},{"c":9,"r":20,"v":4},{"c":10,"r":20,"v":1},{"c":11,"r":20,"v":3},{"c":12,"r":20,"v":2},{"c":13,"r":20,"v":4},{"c":14,"r":20,"v":1},{"c":15,"r":20,"v":3},{"c":16,"r":20,"v":2},{"c":17,"r":20,"v":1},{"c":18,"r":20,"v":4},{"c":19,"r":20,"v":2},{"c":20,"r":20,"v":3},{"c":21,"r":20,"v":1},{"c":22,"r":20,"v":4},{"c":23,"r":20,"v":2},{"c":24,"r":20,"v":3},{"c":25,"r":20,"v":1},
{"c":0,"r":21,"v":1},{"c":1,"r":21,"v":0},{"c":2,"r":21,"v":2},{"c":3,"r":21,"v":1},{"c":4,"r":21,"v":0},{"c":5,"r":21,"v":1},{"c":6,"r":21,"v":2},{"c":7,"r":21,"v":0},{"c":8,"r":21,"v":1},{"c":9,"r":21,"v":0},{"c":10,"r":21,"v":2},{"c":11,"r":21,"v":1},{"c":12,"r":21,"v":0},{"c":13,"r":21,"v":1},{"c":14,"r":21,"v":2},{"c":15,"r":21,"v":0},{"c":16,"r":21,"v":1},{"c":17,"r":21,"v":0},{"c":18,"r":21,"v":1},{"c":19,"r":21,"v":2},{"c":20,"r":21,"v":0},{"c":21,"r":21,"v":1},{"c":22,"r":21,"v":0},{"c":23,"r":21,"v":2},{"c":24,"r":21,"v":1},{"c":25,"r":21,"v":0}]},"mark":"rect","encoding":{"x":{"field":"c","type":"ordinal","axis":null,"scale":{"range":[3,207],"paddingInner":0,"paddingOuter":0,"round":false}},"y":{"field":"r","type":"ordinal","axis":null,"scale":{"range":[-2,175],"paddingInner":0,"paddingOuter":0,"round":false}},"color":{"field":"v","type":"quantitative","legend":null,"scale":{"domain":[0,15,30,45,58,70,85,100],"range":["#ff0000","#ff6a00","#ffe000","#30e000","#00e8d0","#0a20ff","#a000ff","#ff00d0"]}}}},
{"data":{"values":[{"n":0,"r":0,"v":72},{"n":1,"r":0,"v":75},{"n":2,"r":0,"v":80},{"n":3,"r":0,"v":88},{"n":4,"r":0,"v":95},{"n":5,"r":0,"v":98},{"n":6,"r":0,"v":92},{"n":7,"r":0,"v":80},{"n":8,"r":0,"v":72},
{"n":0,"r":1,"v":62},{"n":1,"r":1,"v":65},{"n":2,"r":1,"v":70},{"n":3,"r":1,"v":80},{"n":4,"r":1,"v":90},{"n":5,"r":1,"v":96},{"n":6,"r":1,"v":88},{"n":7,"r":1,"v":72},{"n":8,"r":1,"v":66},
{"n":0,"r":2,"v":52},{"n":1,"r":2,"v":55},{"n":2,"r":2,"v":58},{"n":3,"r":2,"v":68},{"n":4,"r":2,"v":80},{"n":5,"r":2,"v":90},{"n":6,"r":2,"v":78},{"n":7,"r":2,"v":62},{"n":8,"r":2,"v":56},
{"n":0,"r":3,"v":46},{"n":1,"r":3,"v":48},{"n":2,"r":3,"v":52},{"n":3,"r":3,"v":62},{"n":4,"r":3,"v":72},{"n":5,"r":3,"v":82},{"n":6,"r":3,"v":70},{"n":7,"r":3,"v":56},{"n":8,"r":3,"v":50},
{"n":0,"r":4,"v":42},{"n":1,"r":4,"v":44},{"n":2,"r":4,"v":48},{"n":3,"r":4,"v":58},{"n":4,"r":4,"v":68},{"n":5,"r":4,"v":78},{"n":6,"r":4,"v":68},{"n":7,"r":4,"v":54},{"n":8,"r":4,"v":46},
{"n":0,"r":5,"v":38},{"n":1,"r":5,"v":40},{"n":2,"r":5,"v":44},{"n":3,"r":5,"v":52},{"n":4,"r":5,"v":66},{"n":5,"r":5,"v":76},{"n":6,"r":5,"v":66},{"n":7,"r":5,"v":52},{"n":8,"r":5,"v":42},
{"n":0,"r":6,"v":34},{"n":1,"r":6,"v":36},{"n":2,"r":6,"v":40},{"n":3,"r":6,"v":48},{"n":4,"r":6,"v":62},{"n":5,"r":6,"v":74},{"n":6,"r":6,"v":60},{"n":7,"r":6,"v":48},{"n":8,"r":6,"v":38},
{"n":0,"r":7,"v":31},{"n":1,"r":7,"v":33},{"n":2,"r":7,"v":37},{"n":3,"r":7,"v":46},{"n":4,"r":7,"v":60},{"n":5,"r":7,"v":72},{"n":6,"r":7,"v":55},{"n":7,"r":7,"v":42},{"n":8,"r":7,"v":34},
{"n":0,"r":8,"v":28},{"n":1,"r":8,"v":30},{"n":2,"r":8,"v":34},{"n":3,"r":8,"v":44},{"n":4,"r":8,"v":58},{"n":5,"r":8,"v":72},{"n":6,"r":8,"v":48},{"n":7,"r":8,"v":36},{"n":8,"r":8,"v":30},
{"n":0,"r":9,"v":25},{"n":1,"r":9,"v":27},{"n":2,"r":9,"v":31},{"n":3,"r":9,"v":40},{"n":4,"r":9,"v":56},{"n":5,"r":9,"v":72},{"n":6,"r":9,"v":40},{"n":7,"r":9,"v":30},{"n":8,"r":9,"v":26},
{"n":0,"r":10,"v":22},{"n":1,"r":10,"v":24},{"n":2,"r":10,"v":28},{"n":3,"r":10,"v":36},{"n":4,"r":10,"v":52},{"n":5,"r":10,"v":70},{"n":6,"r":10,"v":34},{"n":7,"r":10,"v":26},{"n":8,"r":10,"v":23},
{"n":0,"r":11,"v":20},{"n":1,"r":11,"v":22},{"n":2,"r":11,"v":25},{"n":3,"r":11,"v":32},{"n":4,"r":11,"v":48},{"n":5,"r":11,"v":68},{"n":6,"r":11,"v":28},{"n":7,"r":11,"v":23},{"n":8,"r":11,"v":21},
{"n":0,"r":12,"v":24},{"n":1,"r":12,"v":28},{"n":2,"r":12,"v":32},{"n":3,"r":12,"v":40},{"n":4,"r":12,"v":52},{"n":5,"r":12,"v":66},{"n":6,"r":12,"v":24},{"n":7,"r":12,"v":20},{"n":8,"r":12,"v":18},
{"n":0,"r":13,"v":28},{"n":1,"r":13,"v":32},{"n":2,"r":13,"v":38},{"n":3,"r":13,"v":48},{"n":4,"r":13,"v":58},{"n":5,"r":13,"v":68},{"n":6,"r":13,"v":22},{"n":7,"r":13,"v":18},{"n":8,"r":13,"v":16},
{"n":0,"r":14,"v":15},{"n":1,"r":14,"v":28},{"n":2,"r":14,"v":34},{"n":3,"r":14,"v":44},{"n":4,"r":14,"v":55},{"n":5,"r":14,"v":66},{"n":6,"r":14,"v":20},{"n":7,"r":14,"v":17},{"n":8,"r":14,"v":15},
{"n":0,"r":15,"v":12},{"n":1,"r":15,"v":18},{"n":2,"r":15,"v":30},{"n":3,"r":15,"v":40},{"n":4,"r":15,"v":52},{"n":5,"r":15,"v":64},{"n":6,"r":15,"v":16},{"n":7,"r":15,"v":14},{"n":8,"r":15,"v":12},
{"n":0,"r":16,"v":10},{"n":1,"r":16,"v":12},{"n":2,"r":16,"v":26},{"n":3,"r":16,"v":36},{"n":4,"r":16,"v":48},{"n":5,"r":16,"v":60},{"n":6,"r":16,"v":14},{"n":7,"r":16,"v":12},{"n":8,"r":16,"v":10},
{"n":0,"r":17,"v":8},{"n":1,"r":17,"v":9},{"n":2,"r":17,"v":14},{"n":3,"r":17,"v":30},{"n":4,"r":17,"v":44},{"n":5,"r":17,"v":56},{"n":6,"r":17,"v":12},{"n":7,"r":17,"v":10},{"n":8,"r":17,"v":8},
{"n":0,"r":18,"v":6},{"n":1,"r":18,"v":7},{"n":2,"r":18,"v":9},{"n":3,"r":18,"v":26},{"n":4,"r":18,"v":40},{"n":5,"r":18,"v":52},{"n":6,"r":18,"v":10},{"n":7,"r":18,"v":8},{"n":8,"r":18,"v":6},
{"n":0,"r":19,"v":5},{"n":1,"r":19,"v":5},{"n":2,"r":19,"v":6},{"n":3,"r":19,"v":14},{"n":4,"r":19,"v":34},{"n":5,"r":19,"v":46},{"n":6,"r":19,"v":8},{"n":7,"r":19,"v":6},{"n":8,"r":19,"v":5},
{"n":0,"r":20,"v":3},{"n":1,"r":20,"v":3},{"n":2,"r":20,"v":4},{"n":3,"r":20,"v":5},{"n":4,"r":20,"v":28},{"n":5,"r":20,"v":40},{"n":6,"r":20,"v":5},{"n":7,"r":20,"v":4},{"n":8,"r":20,"v":3},
{"n":0,"r":21,"v":1},{"n":1,"r":21,"v":1},{"n":2,"r":21,"v":2},{"n":3,"r":21,"v":2},{"n":4,"r":21,"v":6},{"n":5,"r":21,"v":30},{"n":6,"r":21,"v":3},{"n":7,"r":21,"v":2},{"n":8,"r":21,"v":1}]},"mark":"rect","encoding":{"x":{"field":"n","type":"ordinal","axis":null,"scale":{"range":[38,65],"paddingInner":0,"paddingOuter":0,"round":false}},"y":{"field":"r","type":"ordinal","axis":null,"scale":{"range":[-2,175],"paddingInner":0,"paddingOuter":0,"round":false}},"color":{"field":"v","type":"quantitative","legend":null}}},
{"data":{"values":[{"x":-5.637,"x2":-5.343,"y":90.9,"y2":5.1}]},"mark":{"type":"rect","fill":{"x1":0,"y1":1,"x2":0,"y2":0,"gradient":"linear","stops":[{"offset":0,"color":"#ff0000"},{"offset":0.1,"color":"#ff7000"},{"offset":0.2,"color":"#ffe000"},{"offset":0.33,"color":"#20e000"},{"offset":0.5,"color":"#00e0e0"},{"offset":0.63,"color":"#0a20ff"},{"offset":0.74,"color":"#a000ff"},{"offset":0.85,"color":"#ff00e0"},{"offset":1,"color":"#ff1030"}]}},"encoding":{"x":{"field":"x","type":"quantitative","scale":{"domain":[-5.147,5],"nice":false},"axis":{"values":[-5,-2.5,2.5,5],"labelExpr":"datum.value==-5?'-5':datum.value==5?'5':datum.value<0?'TSS':'TES'","title":"kb To Gene Border","tickSize":3,"labelPadding":3}},"x2":{"field":"x2"},"y":{"field":"y","type":"quantitative","scale":{"domain":[0,100],"nice":false},"axis":{"values":[],"title":"G4V Frequency","titlePadding":14}},"y2":{"field":"y2"}}},
{"data":{"values":[{"t":"F"}]},"mark":{"type":"text","align":"left","baseline":"alphabetic","fontSize":27,"fontWeight":"normal","color":"#111","dx":-38,"dy":6},"encoding":{"x":{"datum":-5.147,"type":"quantitative","scale":{"domain":[-5.147,5],"nice":false},"axis":null},"y":{"datum":100,"type":"quantitative","scale":{"domain":[0,100],"nice":false},"axis":null},"text":{"field":"t"}}}
],"resolve":{"scale":{"x":"independent","y":"independent"}}}
]}
